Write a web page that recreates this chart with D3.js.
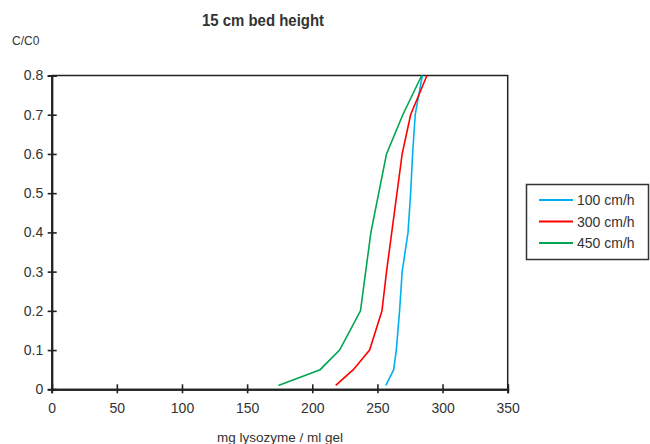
<!DOCTYPE html>
<html>
<head>
<meta charset="utf-8">
<script src="https://cdn.jsdelivr.net/npm/d3@7"></script>
<style>
  body { margin: 0; background: #fff; }
  text { font-family: "Liberation Sans", Arial, sans-serif; fill: #333; }
</style>
</head>
<body>
<script>
'use strict';

// C/C0 levels (same for all three runs)
const levels = [0.01, 0.05, 0.1, 0.2, 0.3, 0.4, 0.5, 0.6, 0.7, 0.8]
// mg lysozyme / ml gel at each level
const flow100 = [256.5, 262.5, 264.5, 267, 269, 273.5, 275.5, 277, 279, 284.5]
const flow300 = [218, 231.5, 244, 253.5, 257, 261, 265, 269, 275.5, 288]
const flow450 = [174, 206, 221, 237, 241, 245, 251, 257, 269.5, 284]
const seriesNames = ["100 cm/h", "300 cm/h", "450 cm/h"]
const xTicks = [0, 50, 100, 150, 200, 250, 300, 350]
const yTicks = [0, 0.1, 0.2, 0.3, 0.4, 0.5, 0.6, 0.7, 0.8]

const colors = ["#00b0f0", "#ff0000", "#00a651"]

const m = { width: 650, height: 444, left: 51.7, right: 507.7, top: 75.5, bottom: 389.3 }

const svg = d3.select('body').append('svg')
  .attr('width', m.width)
  .attr('height', m.height)

const xScale = d3.scaleLinear().domain([0, 350]).range([m.left, m.right])
const yScale = d3.scaleLinear().domain([0, 0.8]).range([m.bottom, m.top])

// frame (top + right)
svg.append('path')
  .attr('d', `M${m.left},${m.top}H${m.right}V${m.bottom}`)
  .attr('fill', 'none')
  .attr('stroke', '#222')
  .attr('stroke-width', 1.5)

function styleAxis(g) {
  g.selectAll('.domain').attr('stroke', '#222').attr('stroke-width', 2)
  g.selectAll('.tick line').attr('stroke', '#222').attr('stroke-width', 1.6)
  g.selectAll('text').style('font-size', '14px').attr('fill', '#333')
    .style('font-family', '"Liberation Sans", Arial, sans-serif')
}

const yFmt = d => d === 0 ? "0" : d.toFixed(1)

// y axis, ticks crossing the line
svg.append('g')
  .attr('transform', `translate(${m.left},0)`)
  .call(d3.axisRight(yScale).tickValues(yTicks).tickSize(5).tickFormat(''))
  .call(styleAxis)
svg.append('g')
  .attr('transform', `translate(${m.left},0)`)
  .call(d3.axisLeft(yScale).tickValues(yTicks).tickSize(4).tickPadding(4.5).tickFormat(yFmt))
  .call(styleAxis)

// x axis, ticks crossing the line
svg.append('g')
  .attr('transform', `translate(0,${m.bottom})`)
  .call(d3.axisTop(xScale).tickValues(xTicks).tickSize(5).tickFormat(''))
  .call(styleAxis)
svg.append('g')
  .attr('transform', `translate(0,${m.bottom})`)
  .call(d3.axisBottom(xScale).tickValues(xTicks).tickSize(4).tickPadding(10))
  .call(styleAxis)

// lines
const allSeries = [flow100, flow300, flow450]
const line = d3.line()
  .x(d => xScale(d[0]))
  .y(d => yScale(d[1]))

allSeries.forEach((vals, i) => {
  svg.append('path')
    .datum(vals.map((v, j) => [v, levels[j]]))
    .attr('d', line)
    .attr('fill', 'none')
    .attr('stroke', colors[i])
    .attr('stroke-width', 1.6)
})

// title and labels (title is a condensed bold face, squeeze it a bit)
svg.append('text')
  .attr('transform', 'translate(263,26) scale(0.88,1)')
  .attr('text-anchor', 'middle')
  .style('font-weight', 'bold')
  .style('font-size', '17px')
  .attr('fill', '#222')
  .text('15 cm bed height')

svg.append('text')
  .attr('x', 12)
  .attr('y', 45)
  .style('font-size', '12px')
  .text('C/C0')

svg.append('text')
  .attr('x', 280)
  .attr('y', 442)
  .attr('text-anchor', 'middle')
  .style('font-size', '13.5px')
  .text('mg lysozyme / ml gel')

// legend
const leg = svg.append('g')
leg.append('rect')
  .attr('x', 526.5)
  .attr('y', 184.5)
  .attr('width', 122)
  .attr('height', 75)
  .attr('fill', '#fff')
  .attr('stroke', '#333')
  .attr('stroke-width', 1.5)

seriesNames.forEach((name, i) => {
  const y = 200 + i * 21.5
  leg.append('line')
    .attr('x1', 539).attr('x2', 573)
    .attr('y1', y).attr('y2', y)
    .attr('stroke', colors[i])
    .attr('stroke-width', 2)
  leg.append('text')
    .attr('x', 577)
    .attr('y', y + 5)
    .style('font-size', '14px')
    .text(name)
})
</script>
</body>
</html>
